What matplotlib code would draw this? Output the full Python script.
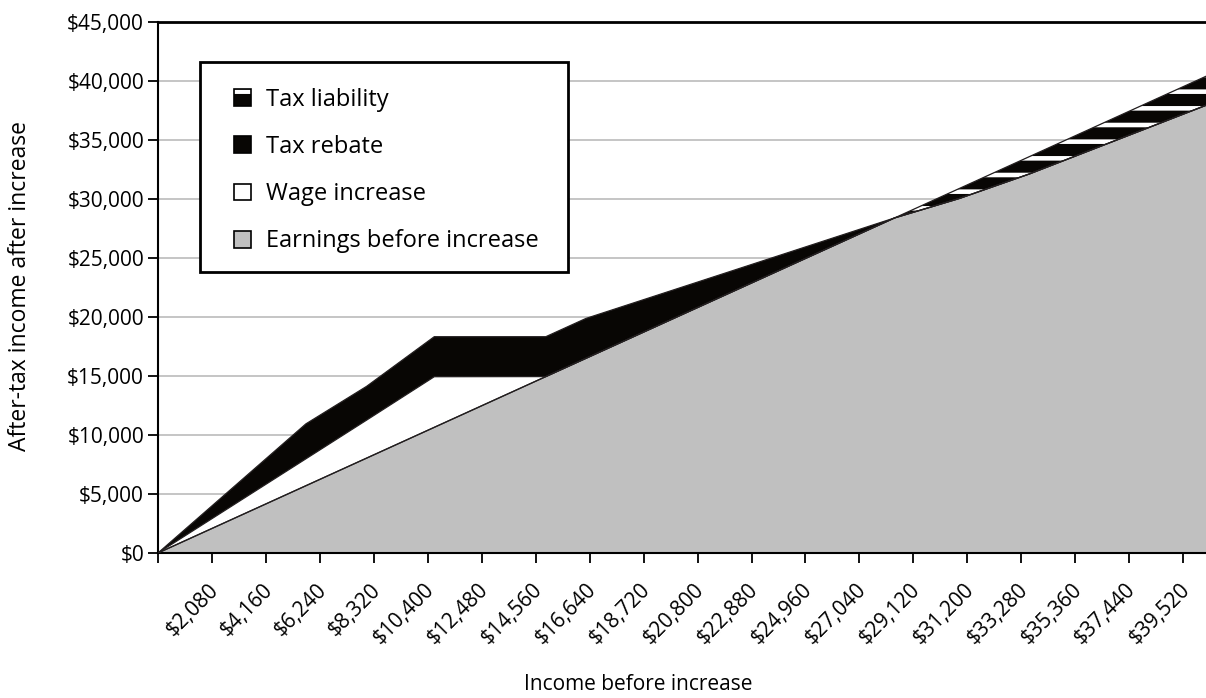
import matplotlib
matplotlib.use("Agg")
import matplotlib.pyplot as plt
import matplotlib.transforms as mtransforms
from matplotlib.patches import Patch, Rectangle

plt.rcParams['font.family'] = ['Open Sans', 'DejaVu Sans']
plt.rcParams['hatch.linewidth'] = 3.3

# income before increase, at the points where the outlines bend
income = [0, 5700, 8040, 10650, 14950, 16500, 28400, 30900, 33600, 40400]
# top of each layer at those incomes
earnings_top = [0, 5700, 8040, 10650, 14950, 16500, 28400, 30050, 32130, 37940]
wage_top = [0, 7980, 11260, 14940, 14950, 16500, 28400, 30050, 32130, 37940]
rebate_top = [0, 10940, 14120, 18330, 18330, 19880, 28400, 30050, 32130, 37940]
liability_top = [0, 5700, 8040, 10650, 14950, 16500, 28400, 30900, 33600, 40400]

tick_income = list(range(0, 39521, 2080))
tick_labels = ['' if v == 0 else '${:,}'.format(v) for v in tick_income]
y_ticks = list(range(0, 45001, 5000))

GREY = '#c0c0c0'
BLACK = '#080604'
LINE = '#231f20'
W, H = 1206, 698

fig = plt.figure(figsize=(W / 100, H / 100), dpi=100)
ax = fig.add_axes([158 / W, 1 - 553 / H, 1 - 158 / W, (553 - 22) / H])

ax.fill_between(income, 0, earnings_top, facecolor=GREY, lw=0, zorder=2)
ax.fill_between(income, earnings_top, wage_top, facecolor='white', lw=0, zorder=2)
ax.fill_between(income, wage_top, rebate_top, facecolor=BLACK, lw=0, zorder=2)
ax.fill_between(income, earnings_top, liability_top, facecolor=BLACK, edgecolor='white',
                hatch='-', lw=0, zorder=2)
for top in (earnings_top, wage_top, rebate_top, liability_top):
    ax.plot(income, top, color=LINE, lw=0.9, zorder=3)

ax.set_xlim(0, 40400)
ax.set_ylim(0, 45000)
ax.set_xticks(tick_income)
ax.set_xticklabels(tick_labels, rotation=45, ha='right', va='top', rotation_mode='anchor')
ax.set_yticks(y_ticks)
ax.set_yticklabels(['${:,}'.format(v) for v in y_ticks])
ax.tick_params(axis='both', direction='out', length=7, width=1.3, colors='black',
               labelsize=15)
ax.tick_params(axis='x', pad=12)
ax.tick_params(axis='y', pad=3)
offset = mtransforms.ScaledTranslation(-4 / 100, 0, fig.dpi_scale_trans)
for lab in ax.get_xticklabels():
    lab.set_transform(lab.get_transform() + offset)

ax.yaxis.grid(True, color=GREY, lw=1.3)
ax.set_axisbelow(True)
for side in ('left', 'bottom'):
    ax.spines[side].set_linewidth(1.5)
ax.spines['top'].set_linewidth(2)
ax.spines['right'].set_visible(False)

handles = [
    (Patch(facecolor=BLACK, edgecolor='white', hatch='-', lw=0),
     Patch(facecolor='none', edgecolor='black', lw=1.2)),
    Patch(facecolor=BLACK, edgecolor='black', lw=1.2),
    Patch(facecolor='white', edgecolor='black', lw=1.2),
    Patch(facecolor=GREY, edgecolor='black', lw=1.2),
]
labels = ['Tax liability', 'Tax rebate', 'Wage increase', 'Earnings before increase']
leg = ax.legend(handles, labels, loc='upper left',
                bbox_to_anchor=((234 - 158) / 1048, (553 - 88) / 531),
                borderaxespad=0, borderpad=0, fontsize=17, frameon=False,
                labelspacing=0.98, handlelength=0.72, handleheight=0.72,
                handletextpad=0.64)

# legend box drawn by hand so the inner padding can differ per side
fig.canvas.draw()
bb = leg.get_window_extent()
box_right = bb.x1 + 29
box = Rectangle(((200 - 158) / 1048, (553 - 272) / 531), (box_right - 200) / 1048,
                210 / 531, transform=ax.transAxes, facecolor='white',
                edgecolor='black', lw=2, zorder=4, clip_on=False)
ax.add_patch(box)

fig.text(20 / W, 1 - 286 / H, 'After-tax income after increase', rotation=90,
         ha='center', va='center', fontsize=16.5)
fig.text(638 / W, 1 - 685 / H, 'Income before increase', ha='center', va='center',
         fontsize=15)

fig.savefig('out.png', dpi=100)
